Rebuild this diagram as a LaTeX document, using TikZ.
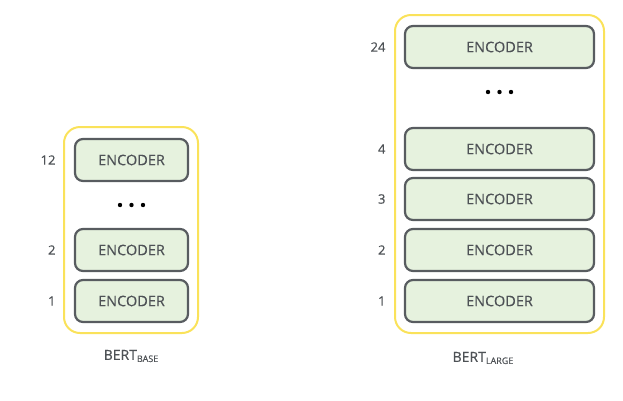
\documentclass[tikz,border=0pt]{standalone}
\usepackage{fontspec}
\setmainfont{Open Sans}
\newfontfamily\labelfont{Open Sans}[FakeBold=0.35]
\definecolor{stackyellow}{RGB}{250,226,90}
\definecolor{encline}{RGB}{88,92,96}
\definecolor{encfill}{RGB}{230,242,222}
\definecolor{txtgray}{RGB}{78,82,86}

\begin{document}
\begin{tikzpicture}[
      x=1pt, y=-1pt,
      stack/.style={draw=stackyellow, line width=2pt, rounded corners=16pt},
      encoder/.style={rectangle, draw=encline, fill=encfill, line width=2.2pt, rounded corners=8pt, minimum height=42pt, text=txtgray, font=\labelfont\fontsize{14.5}{16}\selectfont, inner sep=0pt},
      layernum/.style={text=txtgray, font=\labelfont\fontsize{13}{15}\selectfont, anchor=east},
      dot/.style={circle, fill=black, inner sep=0pt, minimum size=4.4pt},
      model/.style={text=txtgray, font=\labelfont\fontsize{14}{16}\selectfont}
    ]

    % Canvas
    \useasboundingbox (0,0) rectangle (623,400);

    % Base model stack
    \draw[stack] (64,127) rectangle (198,333);

    \node[encoder, minimum width=113pt] (b12) at (131.5,160) {ENCODER};
    \node[encoder, minimum width=113pt] (b2) at (131.5,250) {ENCODER};
    \node[encoder, minimum width=113pt] (b1) at (131.5,301) {ENCODER};

    \node[dot] (bd1) at (120,205) {};
    \node[dot] (bd2) at (131.5,205) {};
    \node[dot] (bd3) at (143,205) {};

    \node[layernum] (nb12) at (59,160) {12};
    \node[layernum] (nb2) at (59,250) {2};
    \node[layernum] (nb1) at (59,301) {1};

    \node[model] (base) at (131,356) {BERT\raisebox{-2pt}{\fontsize{9}{10}\selectfont BASE}};

    % Large model stack
    \draw[stack] (395,15) rectangle (604,333);

    \node[encoder, minimum width=189pt] (l24) at (499.5,47) {ENCODER};
    \node[encoder, minimum width=189pt] (l4) at (499.5,149) {ENCODER};
    \node[encoder, minimum width=189pt] (l3) at (499.5,199) {ENCODER};
    \node[encoder, minimum width=189pt] (l2) at (499.5,250) {ENCODER};
    \node[encoder, minimum width=189pt] (l1) at (499.5,301) {ENCODER};

    \node[dot] (ld1) at (488,92) {};
    \node[dot] (ld2) at (499.5,92) {};
    \node[dot] (ld3) at (511,92) {};

    \node[layernum] (nl24) at (389,47) {24};
    \node[layernum] (nl4) at (389,149) {4};
    \node[layernum] (nl3) at (389,199) {3};
    \node[layernum] (nl2) at (389,250) {2};
    \node[layernum] (nl1) at (389,301) {1};

    \node[model] (large) at (483,358) {BERT\raisebox{-2pt}{\fontsize{9}{10}\selectfont LARGE}};

  \end{tikzpicture}
\end{document}
